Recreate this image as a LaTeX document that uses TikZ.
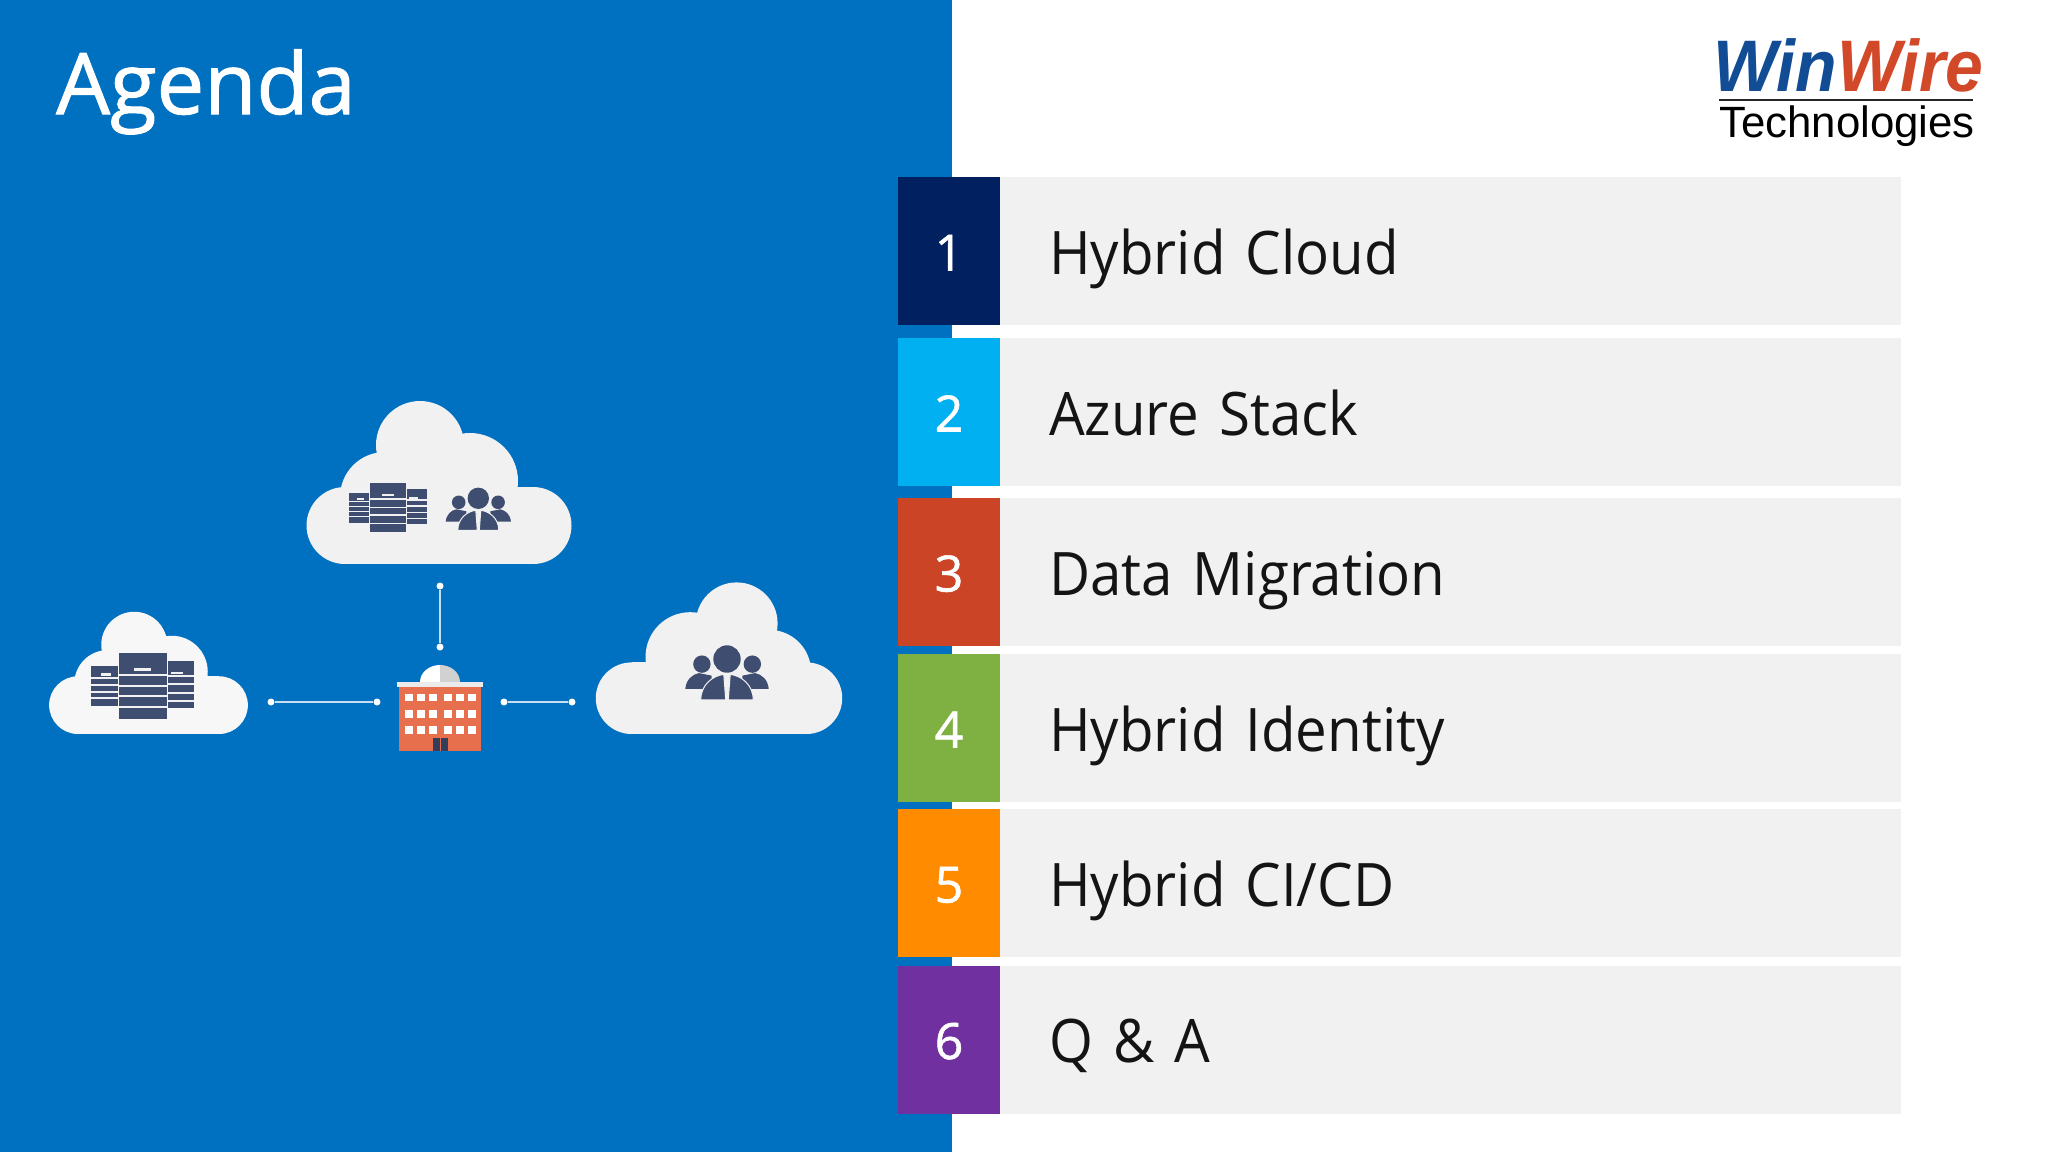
\documentclass[tikz,border=0pt]{standalone}
\usepackage{fontspec}
\setmainfont{Open Sans}
\newfontfamily\logofont{Liberation Sans}
\newfontfamily\rowfont[FakeStretch=.94]{Open Sans}
\newfontfamily\headfont[FakeBold=1.2]{Open Sans}
\usetikzlibrary{calc}

\definecolor{panelblue}{HTML}{0070C0}
\definecolor{rowgray}{HTML}{F2F1F2}
\definecolor{numone}{HTML}{002060}
\definecolor{numtwo}{HTML}{00B0F0}
\definecolor{numthree}{HTML}{CB4426}
\definecolor{numfour}{HTML}{7FB142}
\definecolor{numfive}{HTML}{FF8C00}
\definecolor{numsix}{HTML}{7030A0}
\definecolor{iconblue}{HTML}{3F4E70}
\definecolor{brick}{HTML}{E86F4E}
\definecolor{wingblue}{HTML}{124C94}
\definecolor{wirered}{HTML}{D2492A}

\tikzset{
	numbox/.style={minimum width=102,minimum height=148,inner sep=0,text height=39,text depth=0,text=white,font=\headfont\fontsize{50}{60}\selectfont},
	rowbox/.style={fill=rowgray,anchor=west,align=left,minimum height=148,text width=802,inner xsep=50,inner ysep=0,text height=46,text depth=0,text=black!92,font=\rowfont\fontsize{60}{70}\selectfont},
	linkdot/.style={circle,fill=white,inner sep=0,minimum size=7},
	linkline/.style={draw=white!78!panelblue,line width=2},
	pics/cloudshape/.style={code={
		\path[pic actions] (-19,-119) circle[radius=44];	%top bump
		\path[pic actions] (31,-83) circle[radius=48];		%right bump
		\path[pic actions] (-54,-67) circle[radius=45];		%left bump
		\path[pic actions] (-94,-38.5) circle[radius=38.5];	%low left
		\path[pic actions] (94,-38.5) circle[radius=38.5];	%low right
		\path[pic actions] (-94,-77) rectangle (94,0);		%base
	}},
	pics/serverrack/.style={code={
		\fill[iconblue] (-18,-24.7) rectangle (18,24.7);		%middle
		\fill[iconblue] (-39,-14.8) rectangle (-18.7,15.2);		%left
		\fill[iconblue] (18.7,-18.8) rectangle (38.7,16.5);		%right
		\fill[rowgray] (-18,-9.2) rectangle (18,-7.8);
		\fill[rowgray] (-18,-0.9) rectangle (18,0.5);
		\fill[rowgray] (-18,6.8) rectangle (18,8.2);
		\fill[rowgray] (-18,15.1) rectangle (18,16.5);
		\fill[rowgray] (-39,-6.5) rectangle (-18.7,-5.1);
		\fill[rowgray] (-39,-1.5) rectangle (-18.7,-0.1);
		\fill[rowgray] (-39,3.5) rectangle (-18.7,4.9);
		\fill[rowgray] (-39,8.5) rectangle (-18.7,9.9);
		\fill[rowgray] (18.7,-8.2) rectangle (38.7,-6.8);
		\fill[rowgray] (18.7,-2.2) rectangle (38.7,-0.8);
		\fill[rowgray] (18.7,4.5) rectangle (38.7,5.9);
		\fill[rowgray] (18.7,10.5) rectangle (38.7,11.9);
		\fill[rowgray] (-6.3,-13.5) rectangle (6.3,-11.5);		%middle tag
		\fill[rowgray] (-31.3,-9.5) rectangle (-24,-7.5);		%left tag
		\fill[rowgray] (21,-10.8) rectangle (30.4,-8.8);		%right tag
	}},
	pics/peoplegroup/.style={code={
		\fill[iconblue] (-19.6,4) circle[radius=6.8];	%left head
		\fill[iconblue] (19.8,4) circle[radius=6.8];	%right head
		\fill[iconblue] (0,0) circle[radius=10.7];		%middle head
		\fill[iconblue] (-32.6,23.4) .. controls (-32,16) and (-27,12) .. (-22,11) -- (-12,13) -- (-12,23.4) -- cycle;	%left body
		\fill[iconblue] (32.6,23.4) .. controls (32,16) and (27,12) .. (22,11) -- (12,13) -- (12,23.4) -- cycle;		%right body
		\filldraw[fill=iconblue,draw=rowgray,line width=1] (-20.5,32) .. controls (-20.5,20) and (-11,13) .. (-2.5,12) -- (-1,32) -- cycle;	%middle body
		\filldraw[fill=iconblue,draw=rowgray,line width=1] (20.5,32) .. controls (20.5,20) and (11,13) .. (2.5,12) -- (1,32) -- cycle;
	}},
	pics/windowrow/.style={code={
		\fill[white] (405.2,-3.8) rectangle (412.8,3.8);
		\fill[white] (416.9,-3.8) rectangle (424.5,3.8);
		\fill[white] (428.9,-3.8) rectangle (436.5,3.8);
		\fill[white] (443.9,-3.8) rectangle (451.5,3.8);
		\fill[white] (456.2,-3.8) rectangle (463.8,3.8);
		\fill[white] (468.2,-3.8) rectangle (475.8,3.8);
	}}
}

\begin{document}
\begin{tikzpicture}[x=1pt,y=-1pt]
	\useasboundingbox (0,0) rectangle (2048,1152);
	\fill[white] (0,0) rectangle (2048,1152);
	\fill[panelblue] (0,0) rectangle (952,1152);

	\node[anchor=base west,inner sep=0,text=white,font=\headfont\fontsize{85}{100}\selectfont] (title) at (56,114) {Agenda};

	%logo
	\node[anchor=base west,inner sep=0,xscale=.93,transform shape,font=\logofont\bfseries\itshape\fontsize{73}{80}\selectfont] (logoname) at (1713,91) {\textcolor{wingblue}{Win}\textcolor{wirered}{Wire}};
	\node[anchor=base west,inner sep=0,text=black,font=\logofont\fontsize{43.8}{50}\selectfont] (logosub) at (1719,137) {Technologies};
	\coordinate (ruleleft) at (1719,100);
	\coordinate (ruleright) at (1973,100);
	\draw[line width=2,black!85] (ruleleft)--(ruleright);

	%agenda rows
	\node[rowbox] (row1) at (999,251) {Hybrid Cloud};
	\node[rowbox] (row2) at (999,412) {Azure Stack};
	\node[rowbox] (row3) at (999,572) {Data Migration};
	\node[rowbox] (row4) at (999,728) {Hybrid Identity};
	\node[rowbox] (row5) at (999,883) {Hybrid CI/CD};
	\node[rowbox] (row6) at (999,1039.5) {Q \& A};

	\node[numbox,fill=numone] (num1) at (949,251) {1};
	\node[numbox,fill=numtwo] (num2) at (949,412) {2};
	\node[numbox,fill=numthree] (num3) at (949,572) {3};
	\node[numbox,fill=numfour] (num4) at (949,728) {4};
	\node[numbox,fill=numfive] (num5) at (949,883) {5};
	\node[numbox,fill=numsix] (num6) at (949,1039.5) {6};

	%clouds
	\pic[fill=rowgray] (cloudtop) at (439,564) {cloudshape};
	\pic[fill=white!40!rowgray,scale=.75] (cloudleft) at (148.5,734) {cloudshape};
	\pic[fill=rowgray,xscale=-.93,yscale=.93] (cloudright) at (719,734) {cloudshape};

	\pic (serverstop) at (388,507.5) {serverrack};
	\pic[scale=1.33] (serversleft) at (142.7,686) {serverrack};
	\pic (peopletop) at (478.3,498.3) {peoplegroup};
	\pic[scale=1.28] (peopleright) at (727,659) {peoplegroup};

	%building
	\fill[white] (420,682) arc[start angle=180,end angle=270,x radius=20,y radius=17] -- (440,682) -- cycle;	%dome
	\fill[black!18] (460,682) arc[start angle=0,end angle=-90,x radius=20,y radius=17] -- (440,682) -- cycle;
	\fill[brick] (399.3,686) rectangle (481,751);
	\fill[white!92!black] (397.3,682) rectangle (483.3,686.7);
	\pic at (0,697.3) {windowrow};
	\pic at (0,713.7) {windowrow};
	\pic at (0,730) {windowrow};
	\fill[iconblue!80!black] (433,738) rectangle (448,751);	%door
	\fill[brick] (440,738) rectangle (441,751);

	%links
	\node[linkdot] (topdotA) at (440,586) {};
	\node[linkdot] (topdotB) at (440,647) {};
	\node[linkdot] (leftdotA) at (271,702) {};
	\node[linkdot] (leftdotB) at (377,702) {};
	\node[linkdot] (rightdotA) at (504,702) {};
	\node[linkdot] (rightdotB) at (572,702) {};

	\draw[linkline] (topdotA)--(topdotB);		%cloud top
	\draw[linkline] (leftdotA)--(leftdotB);		%cloud left
	\draw[linkline] (rightdotA)--(rightdotB);	%cloud right
\end{tikzpicture}
\end{document}
